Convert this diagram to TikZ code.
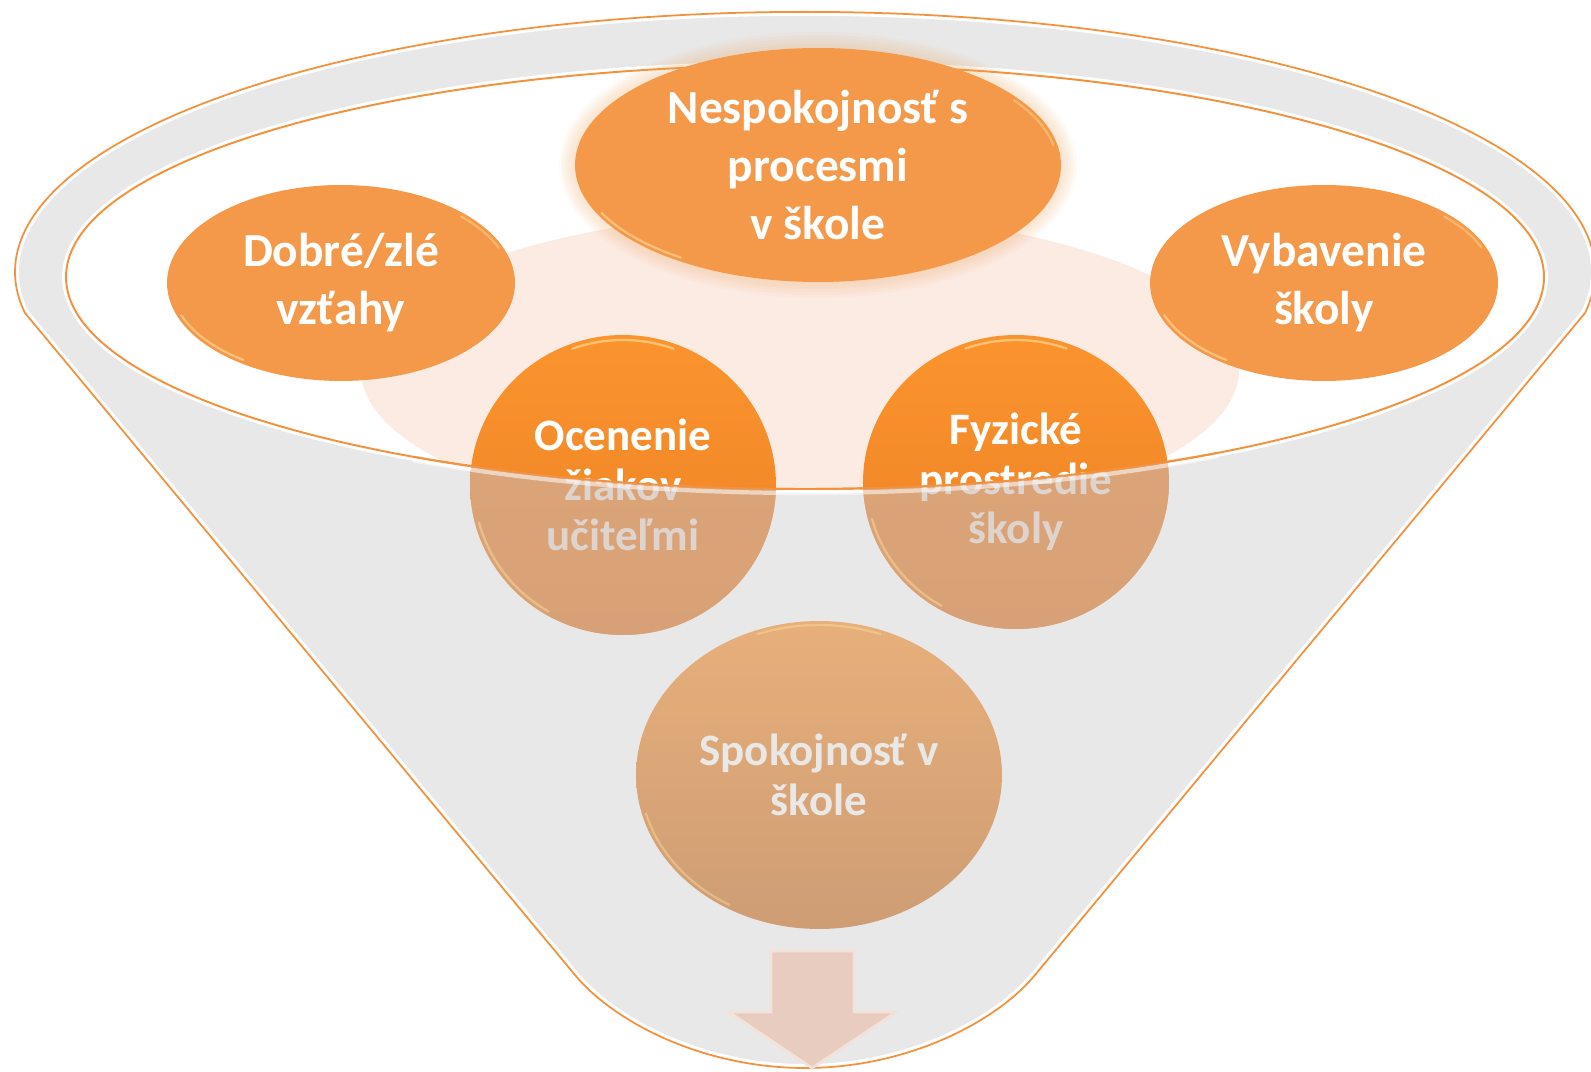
\documentclass[tikz,border=0pt]{standalone}
\usepackage{fontspec}
\setmainfont{Carlito}
\usetikzlibrary{shapes.geometric,calc}
\definecolor{funnelgray}{RGB}{232,232,232}
\definecolor{rimorange}{RGB}{244,145,60}
\definecolor{topfill}{RGB}{244,152,74}
\definecolor{peach}{RGB}{252,235,227}
\definecolor{midtop}{RGB}{251,148,46}
\definecolor{midbot}{RGB}{236,128,36}
\definecolor{mutecol}{RGB}{203,182,173}
\definecolor{spoktop}{RGB}{231,175,123}
\definecolor{spokbot}{RGB}{206,157,116}
\definecolor{spoktext}{RGB}{234,232,230}
\definecolor{hlcol}{RGB}{255,226,160}
\definecolor{arrowfill}{RGB}{231,204,191}
\definecolor{arrowedge}{RGB}{243,226,218}
\definecolor{glowcol}{RGB}{247,170,100}
\begin{document}
\begin{tikzpicture}[x=0.02cm,y=0.02cm,
  bubble/.style={ellipse, inner sep=-4cm, outer sep=0pt, align=center},
  topbubble/.style={bubble, fill=topfill, text=white, font=\bfseries\fontsize{27}{33}\selectfont},
  midbubble/.style={bubble, top color=midtop, bottom color=midbot, text=white, font=\bfseries\fontsize{25.6}{28.3}\selectfont},
  spokbubble/.style={bubble, top color=spoktop, bottom color=spokbot, text=spoktext, font=\bfseries\fontsize{25.6}{28.3}\selectfont},
  hl/.style={draw=hlcol, line width=1.3pt, line cap=round, opacity=0.55}]
\useasboundingbox (0,0) rectangle (1591,1071);

% funnel body
\fill[funnelgray] (25,758) -- (575,96) .. controls (612,51) and (700,3) .. (805,3) .. controls (910,3) and (998,51) .. (1035,96) -- (1585,758) arc[start angle=-9.1, end angle=189.1, x radius=790, y radius=260] -- cycle;
\begin{scope}
  \clip (25,758) -- (575,96) .. controls (612,51) and (700,3) .. (805,3) .. controls (910,3) and (998,51) .. (1035,96) -- (1585,758) arc[start angle=-9.1, end angle=189.1, x radius=790, y radius=260] -- cycle;
  \draw[white, line width=4.5pt] (25,758) -- (575,96) .. controls (612,51) and (700,3) .. (805,3) .. controls (910,3) and (998,51) .. (1035,96) -- (1585,758) arc[start angle=-9.1, end angle=189.1, x radius=790, y radius=260] -- cycle;
\end{scope}
\draw[rimorange, line width=1pt] (25,758) -- (575,96) .. controls (612,51) and (700,3) .. (805,3) .. controls (910,3) and (998,51) .. (1035,96) -- (1585,758) arc[start angle=-9.1, end angle=189.1, x radius=790, y radius=260] -- cycle;

% opening
\draw[white, line width=4.5pt] (805,794) ellipse [x radius=739, y radius=212];
\fill[white] (805,794) ellipse [x radius=739, y radius=212];
\begin{scope}
  \clip (805,794) ellipse [x radius=739, y radius=212];
  \fill[peach] (800,701) ellipse [x radius=439, y radius=157];
\end{scope}
\draw[rimorange, line width=1.1pt] (805,794) ellipse [x radius=739, y radius=212];

% top bubbles
\foreach \g in {16,13,...,1}
  \fill[glowcol, fill opacity=0.06] (818,906) ellipse [x radius=243+\g, y radius=117+\g];
\node[topbubble, minimum width=9.72cm, minimum height=4.68cm] (nesp) at (818,906) {Nespokojnosť s\\procesmi\\v škole};
\node[topbubble, minimum width=6.96cm, minimum height=3.92cm] (dob) at (341,788) {Dobré/zlé\\vzťahy};
\node[topbubble, minimum width=6.96cm, minimum height=3.92cm] (vyb) at (1324,788) {Vybavenie\\školy};

\draw[hl] ($(dob.center)+(200:170 and 94)$) arc[start angle=200, end angle=235, x radius=170, y radius=94];
\draw[hl, opacity=0.4] ($(dob.center)+(22:170 and 94)$) arc[start angle=22, end angle=45, x radius=170, y radius=94];
\draw[hl] ($(vyb.center)+(200:170 and 94)$) arc[start angle=200, end angle=235, x radius=170, y radius=94];
\draw[hl, opacity=0.4] ($(vyb.center)+(22:170 and 94)$) arc[start angle=22, end angle=45, x radius=170, y radius=94];
\draw[hl] ($(nesp.center)+(205:239 and 113)$) arc[start angle=205, end angle=235, x radius=239, y radius=113];
\draw[hl, opacity=0.4] ($(nesp.center)+(10:239 and 113)$) arc[start angle=10, end angle=35, x radius=239, y radius=113];

% middle bubbles
\node[midbubble, minimum width=6.12cm, minimum height=6cm] (oce) at (623,586) {Ocenenie\\žiakov\\učiteľmi};
\node[midbubble, minimum width=6.12cm, minimum height=5.88cm] (fyz) at (1016,589) {Fyzické\\prostredie\\školy};
\draw[hl, opacity=0.6] ($(oce.center)+(70:148 and 145)$) arc[start angle=70, end angle=110, x radius=148, y radius=145];
\draw[hl, opacity=0.6] ($(fyz.center)+(70:148 and 142)$) arc[start angle=70, end angle=110, x radius=148, y radius=142];

% funnel front over the middle bubbles
\foreach \c/\rx/\ry in {oce/153/150, fyz/153/147} {
  \begin{scope}
    \clip (\c.center) ellipse [x radius=\rx, y radius=\ry];
    \fill[mutecol, fill opacity=0.6, even odd rule] (0,0) rectangle (1591,1071) (805,794) ellipse [x radius=739, y radius=212];
  \end{scope}
}
\draw[hl, opacity=0.45] ($(oce.center)+(195:149 and 146)$) arc[start angle=195, end angle=240, x radius=149, y radius=146];
\draw[hl, opacity=0.45] ($(fyz.center)+(195:149 and 143)$) arc[start angle=195, end angle=240, x radius=149, y radius=143];
\draw[white, line width=2.4pt, opacity=0.55] ($(805,794)+(238:739 and 216)$) arc[start angle=238, end angle=304, x radius=739, y radius=216];
\draw[rimorange, line width=1.1pt] ($(805,794)+(238:739 and 212)$) arc[start angle=238, end angle=304, x radius=739, y radius=212];

% result bubble
\node[spokbubble, minimum width=7.32cm, minimum height=6.16cm] (spo) at (819,296) {Spokojnosť v\\škole};
\draw[hl, opacity=0.4] ($(spo.center)+(70:179 and 150)$) arc[start angle=70, end angle=110, x radius=179, y radius=150];
\draw[hl, opacity=0.4] ($(spo.center)+(195:179 and 150)$) arc[start angle=195, end angle=240, x radius=179, y radius=150];

% down arrow
\draw[arrowedge, fill=arrowfill, line width=1.5pt, line join=miter] (771,120) -- (854,120) -- (854,59) -- (896,59) -- (812,3) -- (729,59) -- (771,59) -- cycle;
\end{tikzpicture}
\end{document}
